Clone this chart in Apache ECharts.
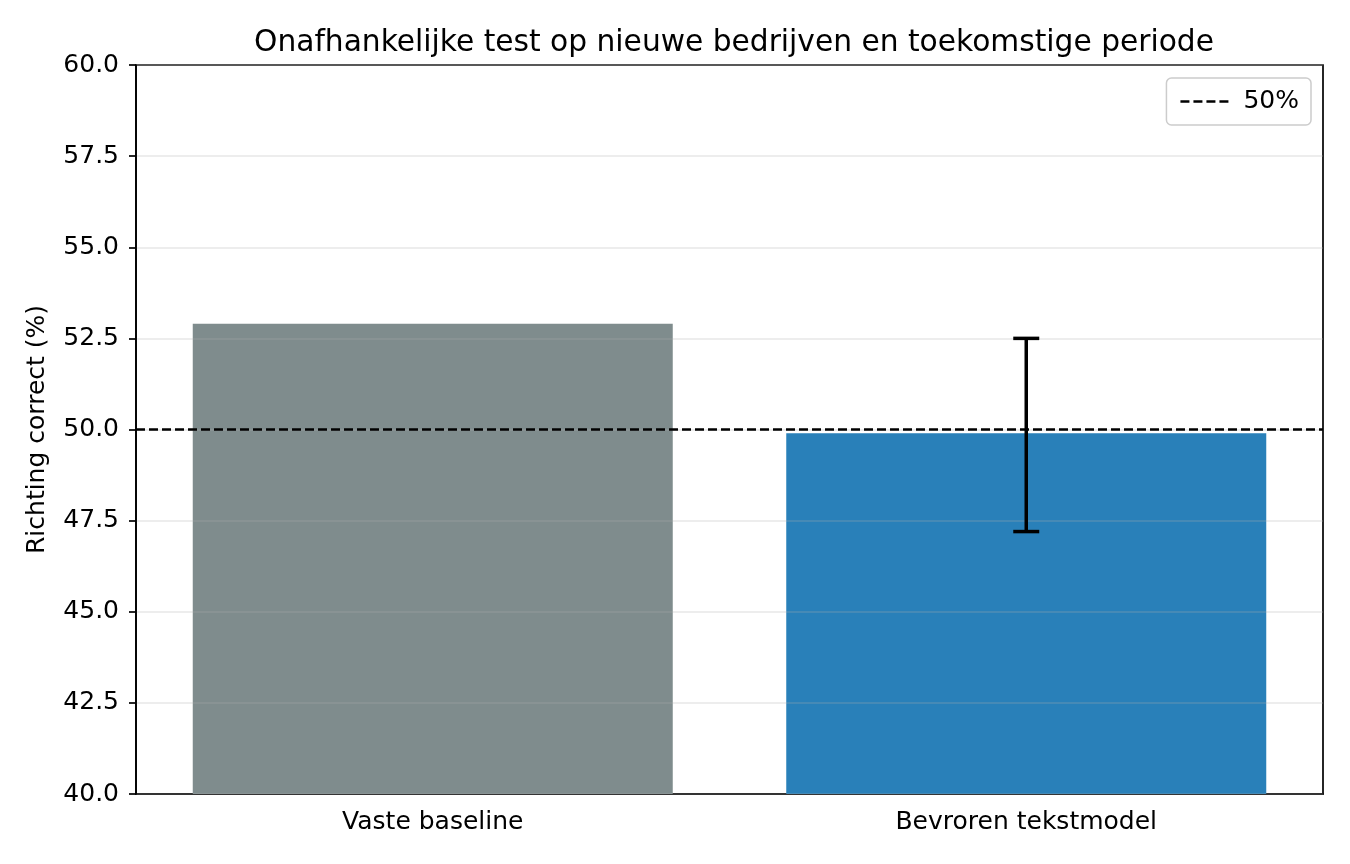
<!DOCTYPE html>
<html>
<head>
<meta charset="utf-8">
<script src="https://cdn.jsdelivr.net/npm/echarts@6/dist/echarts.min.js"></script>
<style>
  html, body { margin: 0; padding: 0; background: #fff; }
  #chart { width: 1350px; height: 864px; }
</style>
</head>
<body>
<div id="chart"></div>
<script>
// data
const categories = ['Vaste baseline', 'Bevroren tekstmodel']
const values = [52.9, 49.9]
const barColors = ['#7f8c8d', '#2980b9']
// error bar: [category index, low, high]
const errorBars = [[1, 47.2, 52.5]]
const refLine = 50
const yTicks = { min: 40, max: 60, interval: 2.5 }

const font = 'DejaVu Sans'
const chart = echarts.init(document.getElementById('chart'))

// dashed legend key, drawn as four short dashes
const dashIcon = 'path://M0,0h9v2.5h-9z M13,0h9v2.5h-9z M26,0h9v2.5h-9z M39,0h9v2.5h-9z'

const option = {
  animation: false,
  textStyle: { fontFamily: font, color: '#000' },
  title: {
    text: 'Onafhankelijke test op nieuwe bedrijven en toekomstige periode',
    left: 729,
    top: 23,
    textAlign: 'center',
    textStyle: { fontFamily: font, fontSize: 29.7, fontWeight: 'normal', color: '#000' },
  },
  legend: {
    right: 39,
    top: 78,
    padding: [11, 12, 11, 14],
    borderColor: '#cccccc',
    borderWidth: 1.5,
    borderRadius: 5,
    backgroundColor: '#fff',
    icon: dashIcon,
    itemWidth: 48,
    itemHeight: 2.5,
    textStyle: { fontFamily: font, fontSize: 25, color: '#000', padding: [0, 0, 0, 10] },
    data: [{ name: '50%', itemStyle: { color: '#000' } }],
  },
  grid: {
    left: 136,
    right: 27,
    top: 65,
    bottom: 70,
    show: true,
    borderColor: '#000',
    borderWidth: 1.7,
    backgroundColor: 'transparent',
  },
  xAxis: {
    type: 'category',
    data: categories,
    axisLine: { lineStyle: { color: '#000', width: 1.7 } },
    axisTick: { alignWithLabel: true, length: 7, lineStyle: { color: '#000', width: 1.7 } },
    axisLabel: { fontFamily: font, fontSize: 25, color: '#000', margin: 16 },
  },
  yAxis: {
    type: 'value',
    min: yTicks.min,
    max: yTicks.max,
    interval: yTicks.interval,
    z: 3,
    name: 'Richting correct (%)',
    nameLocation: 'middle',
    nameGap: 86,
    nameTextStyle: { fontFamily: font, fontSize: 25, color: '#000' },
    axisLine: { show: true, lineStyle: { color: '#000', width: 1.7 } },
    axisTick: { show: true, length: 7, lineStyle: { color: '#000', width: 1.7 } },
    axisLabel: { fontFamily: font, fontSize: 25, color: '#000', margin: 17,
      formatter: v => v.toFixed(1) },
    splitLine: { show: true, lineStyle: { color: 'rgba(176,176,176,0.3)', width: 1.5 } },
  },
  series: [
    {
      type: 'bar',
      barWidth: 480,
      data: values.map((v, i) => ({ value: v, itemStyle: { color: barColors[i] } })),
    },
    {
      name: '50%',
      type: 'line',
      data: [],
      symbol: 'none',
      lineStyle: { color: '#000', width: 2.5, type: [9, 4] },
      itemStyle: { color: '#000' },
      markLine: {
        silent: true,
        symbol: 'none',
        label: { show: false },
        z: 4,
        lineStyle: { color: '#000', width: 2.5, type: [9, 4] },
        data: [{ yAxis: refLine }],
      },
    },
    {
      type: 'custom',
      z: 5,
      data: errorBars,
      renderItem: (params, api) => {
        const x = api.value(0)
        const lo = api.coord([x, api.value(1)])
        const hi = api.coord([x, api.value(2)])
        const cap = 13
        const style = { stroke: '#000', lineWidth: 3.5 }
        return {
          type: 'group',
          children: [
            { type: 'line', shape: { x1: lo[0], y1: lo[1], x2: hi[0], y2: hi[1] }, style },
            { type: 'line', shape: { x1: hi[0] - cap, y1: hi[1], x2: hi[0] + cap, y2: hi[1] }, style },
            { type: 'line', shape: { x1: lo[0] - cap, y1: lo[1], x2: lo[0] + cap, y2: lo[1] }, style },
          ],
        }
      },
    },
  ],
}

chart.setOption(option)
</script>
</body>
</html>
